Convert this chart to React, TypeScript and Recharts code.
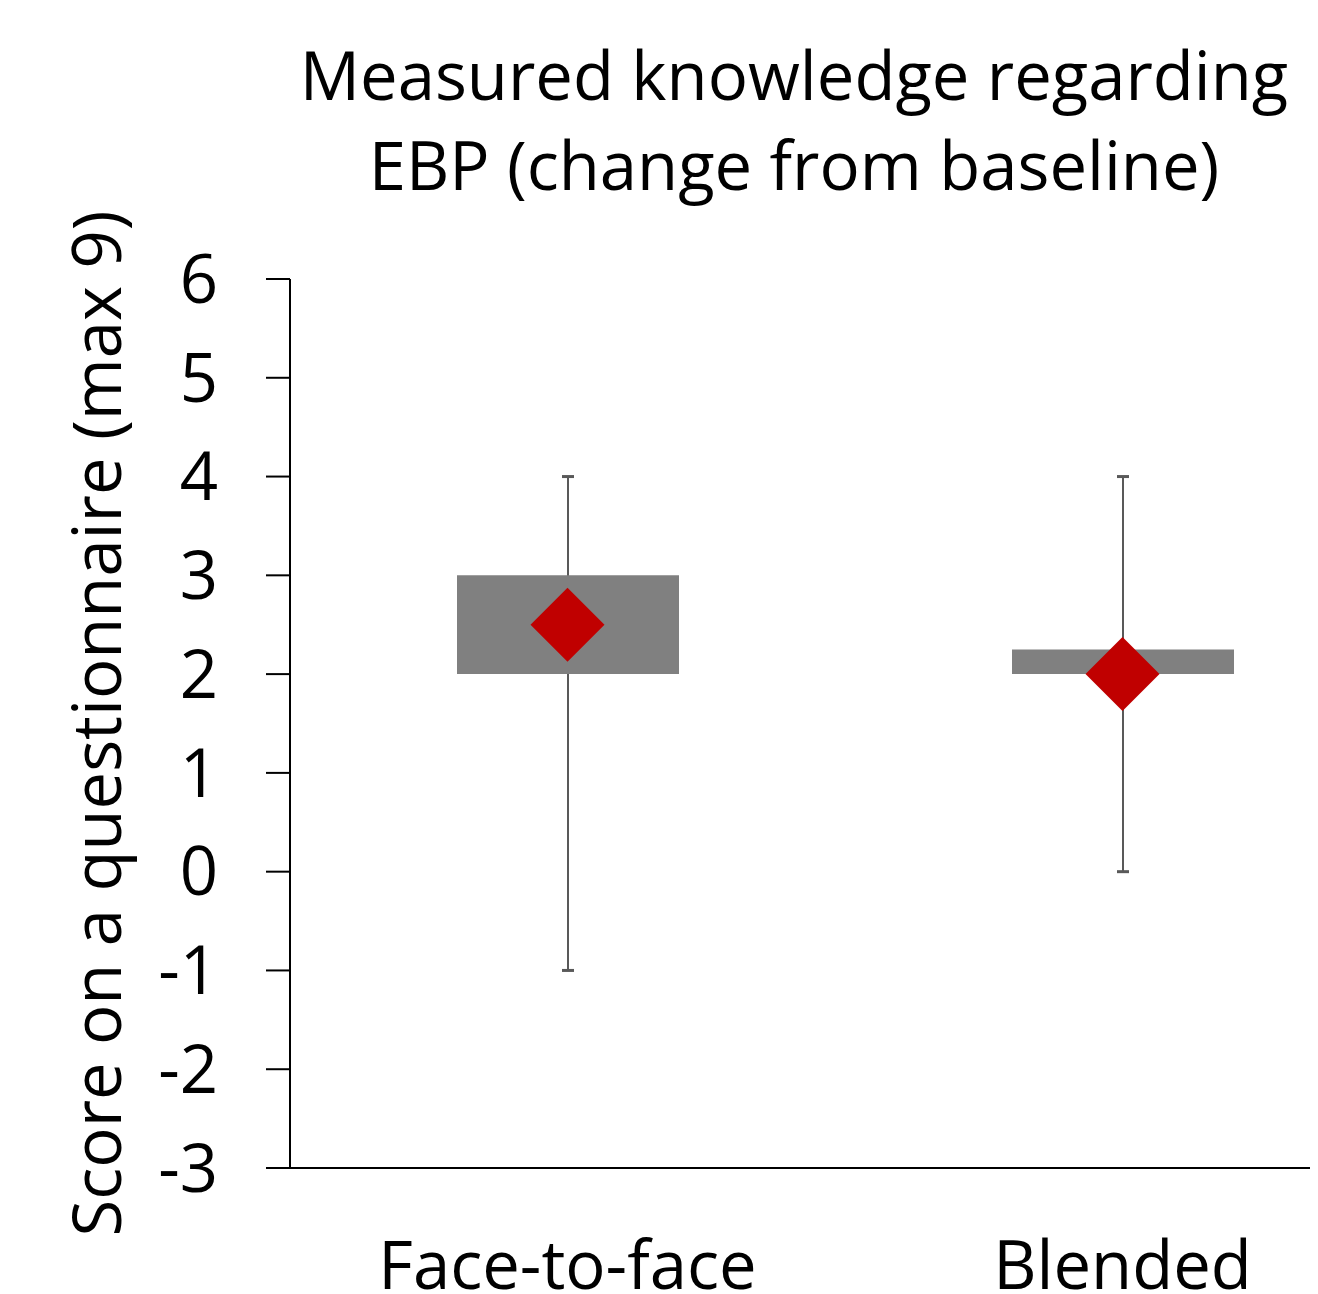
import { ComposedChart, Bar, Line, XAxis, YAxis, Label } from 'recharts';

const categories = ['Face-to-face', 'Blended'];
const whiskerLow = [-1, 0];
const whiskerHigh = [4, 4];
const boxLow = [2, 2];
const boxHigh = [3, 2.25];
const means = [2.5, 2];
const yTicks = [-3, -2, -1, 0, 1, 2, 3, 4, 5, 6];

const data = categories.map((name, i) => ({
  name,
  whisker: [whiskerLow[i], whiskerHigh[i]],
  box: [boxLow[i], boxHigh[i]],
  mean: means[i],
}));

const FONT = '"Open Sans", sans-serif';

// whisker: vertical line with a small cap at each end
const WhiskerShape = (props: any) => {
  const { x, y, width, height } = props;
  const cx = x + width / 2;
  return (
    <g stroke="#595959" strokeWidth={2}>
      <line x1={cx} y1={y} x2={cx} y2={y + height} />
      <line x1={x} y1={y} x2={x + width} y2={y} strokeWidth={3} />
      <line x1={x} y1={y + height} x2={x + width} y2={y + height} strokeWidth={3} />
    </g>
  );
};

const Diamond = (props: any) => {
  const { cx, cy } = props;
  if (cx == null || cy == null) return null;
  const r = 37;
  return (
    <path
      d={`M${cx},${cy - r} L${cx + r},${cy} L${cx},${cy + r} L${cx - r},${cy} Z`}
      fill="#C00000"
    />
  );
};

const YLabel = (props: any) => {
  const { viewBox } = props;
  const cx = 87;
  const cy = viewBox.y + viewBox.height / 2;
  return (
    <text
      x={cx}
      y={cy}
      transform={`rotate(-90 ${cx} ${cy})`}
      textAnchor="middle"
      dominantBaseline="central"
      fontSize={67}
      fontFamily={FONT}
      fill="#000"
    >
      Score on a questionnaire (max 9)
    </text>
  );
};

export default function App() {
  return (
    <div style={{ position: 'relative', width: 1310, height: 1286, overflow: 'hidden', background: '#fff' }}>
      <style>{`html,body{overflow:hidden}`}</style>
      <div
        style={{
          position: 'absolute',
          left: 186,
          top: 21,
          width: 1200,
          textAlign: 'center',
          fontFamily: FONT,
          fontSize: 67,
          lineHeight: '90px',
          color: '#000',
          zIndex: 2,
        }}
      >
        Measured knowledge regarding
        <br />
        EBP (change from baseline)
      </div>
      <ComposedChart
        width={1400}
        height={1286}
        data={data}
        margin={{ top: 271, right: 8, left: 0, bottom: 0 }}
      >
        <XAxis
          xAxisId="main"
          dataKey="name"
          height={126}
          tickLine={false}
          tickSize={0}
          tickMargin={73}
          axisLine={{ stroke: '#000', strokeWidth: 2 }}
          tick={{ fill: '#000', fontSize: 67, fontFamily: FONT }}
          interval={0}
        />
        <XAxis xAxisId="w" dataKey="name" hide />
        <YAxis
          domain={[-3, 6]}
          ticks={yTicks}
          width={282}
          tickSize={24}
          tickMargin={48}
          axisLine={{ stroke: '#000', strokeWidth: 2 }}
          tickLine={{ stroke: '#000', strokeWidth: 2 }}
          tick={{ fill: '#000', fontSize: 67, fontFamily: FONT }}
          interval={0}
        >
          <Label content={<YLabel />} />
        </YAxis>
        <Bar
          xAxisId="w"
          dataKey="whisker"
          barSize={12}
          shape={<WhiskerShape />}
          isAnimationActive={false}
        />
        <Bar
          xAxisId="main"
          dataKey="box"
          barSize={222}
          fill="#808080"
          isAnimationActive={false}
        />
        <Line
          xAxisId="main"
          dataKey="mean"
          stroke="none"
          dot={<Diamond />}
          activeDot={false}
          isAnimationActive={false}
        />
      </ComposedChart>
    </div>
  );
}
